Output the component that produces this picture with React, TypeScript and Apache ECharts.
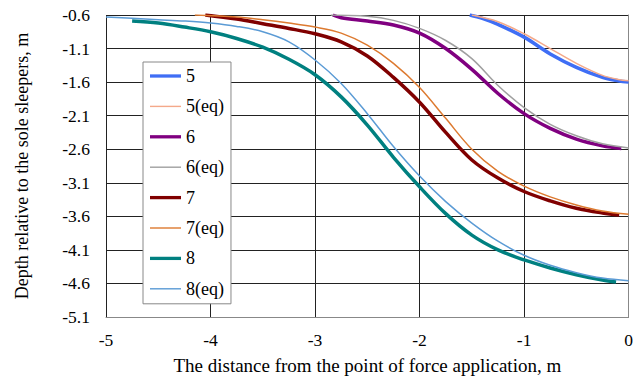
import React, { useEffect, useRef } from "react";
import * as echarts from "echarts";

const xTicks = [-5, -4, -3, -2, -1, 0];
const yTicks = [-5.1, -4.6, -4.1, -3.6, -3.1, -2.6, -2.1, -1.6, -1.1, -0.6];

const seriesNames = ["5", "5(eq)", "6", "6(eq)", "7", "7(eq)", "8", "8(eq)"];

const s5X = [-1.52, -1.4, -1.25, -1.0, -0.75, -0.5, -0.25, -0.1, 0];
const s5Y = [-0.6, -0.65, -0.74, -0.93, -1.18, -1.38, -1.53, -1.58, -1.6];
const s5eqX = [-1.5, -1.25, -1.0, -0.75, -0.5, -0.25, -0.1, 0];
const s5eqY = [-0.6, -0.7, -0.88, -1.1, -1.32, -1.5, -1.56, -1.58];

const s6X = [-2.83, -2.75, -2.5, -2.25, -2.0, -1.75, -1.5, -1.25, -1.0, -0.75, -0.5, -0.25, -0.07];
const s6Y = [-0.6, -0.64, -0.69, -0.75, -0.87, -1.1, -1.41, -1.77, -2.07, -2.29, -2.45, -2.55, -2.59];
const s6eqX = [-2.85, -2.5, -2.25, -2.0, -1.75, -1.5, -1.25, -1.0, -0.75, -0.5, -0.25, 0];
const s6eqY = [-0.6, -0.62, -0.68, -0.8, -0.98, -1.25, -1.65, -1.98, -2.23, -2.4, -2.52, -2.58];

const s7X = [-4.05, -3.75, -3.5, -3.25, -3.0, -2.75, -2.5, -2.25, -2.0, -1.75, -1.5, -1.25, -1.0, -0.75, -0.5, -0.25, -0.09];
const s7Y = [-0.6, -0.66, -0.73, -0.8, -0.88, -1.0, -1.21, -1.53, -1.9, -2.35, -2.76, -3.03, -3.23, -3.37, -3.48, -3.55, -3.58];
const s7eqX = [-4.15, -3.75, -3.5, -3.25, -3.0, -2.75, -2.5, -2.25, -2.0, -1.75, -1.5, -1.25, -1.0, -0.75, -0.5, -0.25, 0];
const s7eqY = [-0.6, -0.63, -0.67, -0.72, -0.78, -0.87, -1.05, -1.32, -1.68, -2.14, -2.6, -2.93, -3.15, -3.31, -3.43, -3.52, -3.57];

const s8X = [-4.75, -4.5, -4.25, -4.0, -3.75, -3.5, -3.25, -3.0, -2.75, -2.5, -2.25, -2.0, -1.75, -1.5, -1.25, -1.0, -0.75, -0.5, -0.25, -0.12];
const s8Y = [-0.69, -0.72, -0.78, -0.85, -0.95, -1.08, -1.26, -1.49, -1.82, -2.24, -2.72, -3.16, -3.56, -3.88, -4.1, -4.25, -4.37, -4.47, -4.55, -4.58];
const s8eqX = [-5.0, -4.75, -4.5, -4.25, -4.0, -3.75, -3.5, -3.25, -3.0, -2.75, -2.5, -2.25, -2.0, -1.75, -1.5, -1.25, -1.0, -0.75, -0.5, -0.25, 0];
const s8eqY = [-0.63, -0.65, -0.67, -0.69, -0.72, -0.77, -0.85, -1.0, -1.27, -1.62, -2.07, -2.56, -3.0, -3.38, -3.7, -3.97, -4.18, -4.33, -4.44, -4.52, -4.56];

const allX = [s5X, s5eqX, s6X, s6eqX, s7X, s7eqX, s8X, s8eqX];
const allY = [s5Y, s5eqY, s6Y, s6eqY, s7Y, s7eqY, s8Y, s8eqY];
const colors = ["#3F6EF5", "#F4A98A", "#800080", "#A0A0A0", "#800000", "#DD7A30", "#008080", "#5B9BD5"];
const widths = [3.5, 1.5, 3.5, 1.5, 3.5, 1.5, 3.5, 1.5];

const FONT = "'Liberation Serif', 'Times New Roman', serif";

export default function App() {
  const ref = useRef<HTMLDivElement>(null);
  useEffect(() => {
    if (!ref.current) return;
    const chart = echarts.init(ref.current, null, { renderer: "svg" });
    const series = seriesNames.map((name, i) => ({
      name,
      type: "line",
      data: allX[i].map((x, j) => [x, allY[i][j]]),
      smooth: 0.35,
      symbol: "none",
      showSymbol: false,
      lineStyle: { color: colors[i], width: widths[i] },
      itemStyle: { color: colors[i] },
      z: i % 2 === 0 ? 2 : 3,
    }));
    const legendData = seriesNames.map((name, i) => ({
      name,
      icon: `path://M0,0H33V${widths[i]}H0Z`,
      itemStyle: { color: colors[i], borderWidth: 0 },
    }));
    chart.setOption({
      animation: false,
      backgroundColor: "#fff",
      textStyle: { fontFamily: FONT },
      grid: { left: 106, top: 15, width: 532, height: 305, containLabel: false },
      legend: {
        orient: "vertical",
        left: 143,
        top: 62,
        data: legendData,
        backgroundColor: "#fff",
        borderColor: "#888",
        borderWidth: 1,
        padding: [5, 7, 6, 7],
        itemWidth: 31,
        itemHeight: 16,
        itemGap: 12.4,
        symbolKeepAspect: true,
        itemStyle: { borderWidth: 0 },
        textStyle: { fontFamily: FONT, fontSize: 18, color: "#000", lineHeight: 16 },
      },
      xAxis: {
        type: "value",
        min: xTicks[0],
        max: xTicks[xTicks.length - 1],
        interval: 1,
        name: "The distance from the point of force application, m",
        nameLocation: "middle",
        nameGap: 39,
        nameTextStyle: { fontFamily: FONT, fontSize: 19, color: "#000" },
        axisLine: { show: true, lineStyle: { color: "#888", width: 1 } },
        axisTick: { show: false },
        axisLabel: { margin: 14, fontFamily: FONT, fontSize: 17.5, color: "#000" },
        splitLine: { show: true, lineStyle: { color: "#222", width: 1 } },
      },
      yAxis: {
        type: "value",
        min: yTicks[0],
        max: yTicks[yTicks.length - 1],
        interval: 0.5,
        name: "Depth relative to the sole sleepers, m",
        nameLocation: "middle",
        nameGap: 75,
        nameTextStyle: { fontFamily: FONT, fontSize: 18, color: "#000" },
        axisLine: { show: true, lineStyle: { color: "#888", width: 1 } },
        axisTick: { show: false },
        axisLabel: {
          margin: 16,
          fontFamily: FONT,
          fontSize: 17.5,
          color: "#000",
          formatter: (v: number) => v.toFixed(1),
        },
        splitLine: { show: true, lineStyle: { color: "#222", width: 1 } },
      },
      series,
    });
    return () => chart.dispose();
  }, []);
  return (
    <div
      ref={ref}
      style={{ position: "fixed", left: 0, top: 0, width: 636, height: 380 }}
    />
  );
}
